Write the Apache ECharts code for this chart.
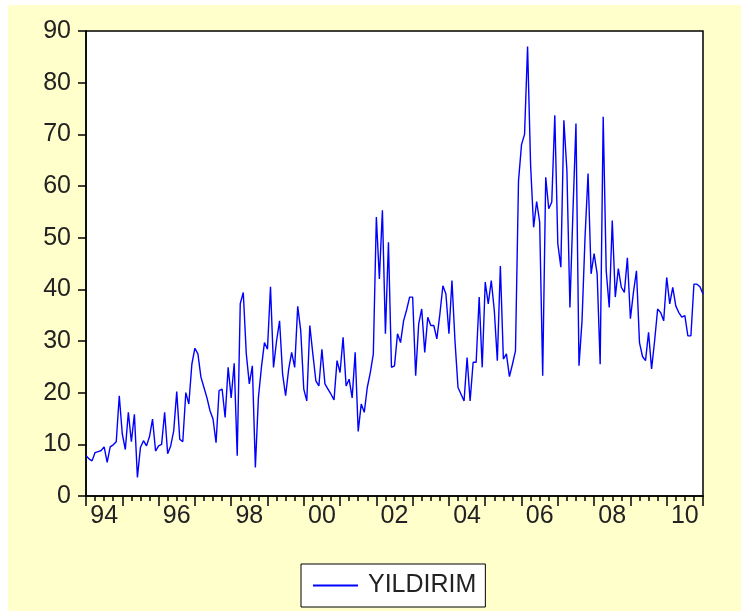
<!DOCTYPE html>
<html>
<head>
<meta charset="utf-8">
<script src="https://cdn.jsdelivr.net/npm/echarts@6/dist/echarts.min.js"></script>
<style>
html,body{margin:0;padding:0;background:#fff;}
#bg{position:absolute;left:8px;top:5px;width:733px;height:606px;background:#FFFFCC;z-index:0;}
#chart{position:absolute;left:0;top:0;width:741px;height:611px;z-index:1;}
</style>
</head>
<body>
<div id="bg"></div>
<div id="chart"></div>
<script>
// Monthly observations, 1994M01 - 2011M01
const startYear = 1994;
const endYear = 2011;
const seriesName = 'YILDIRIM';
const yTicks = [0, 10, 20, 30, 40, 50, 60, 70, 80, 90];

const values = [
  7.8, 7.2, 6.8, 8.4, 8.6, 8.8, 9.5, 6.5, 9.5, 9.9,
  10.5, 19.4, 12, 9.0, 16.2, 10.5, 15.8, 3.6, 9.4, 10.7,
  9.7, 11.5, 14.9, 8.7, 9.7, 10, 16.2, 8.2, 9.7, 12.6,
  20.2, 11, 10.5, 20, 17.8, 25.5, 28.6, 27.5, 23, 21,
  19, 16.5, 14.9, 10.3, 20.4, 20.7, 15.2, 24.9, 19, 25.7,
  7.8, 37.2, 39.4, 27.5, 21.7, 25.2, 5.5, 19, 24.9, 29.7,
  28.4, 40.5, 24.9, 30, 33.9, 23.6, 19.4, 24.5, 27.8, 24.9,
  36.7, 32, 20.7, 18.4, 33, 27.5, 22.3, 21.3, 28.4, 21.7,
  20.7, 19.7, 18.6, 26.2, 23.9, 30.7, 21.3, 22.6, 19, 27.8,
  12.5, 17.8, 16.2, 21, 23.9, 27.5, 54, 42, 55.3, 31.4,
  49.1, 24.9, 25.2, 31.4, 29.7, 33.9, 36, 38.5, 38.5, 23.3,
  33.3, 36.2, 27.8, 34.6, 33, 33, 30.4, 35.2, 40.7, 39.1,
  31.4, 41.7, 30, 21, 19.7, 18.4, 26.8, 18.4, 25.9, 25.9,
  38.5, 24.9, 41.4, 37.2, 41.7, 35.9, 26.2, 44.5, 26.5, 27.5,
  23.1, 25.5, 28.1, 61, 68, 70, 87, 64, 52, 57,
  53, 23.3, 61.7, 55.6, 56.9, 73.7, 48.8, 44.3, 72.7, 63,
  36.5, 55, 72.1, 25.2, 33.9, 50.1, 62.4, 43, 46.9, 43,
  25.5, 73.4, 43.6, 36.5, 53.3, 38.5, 44, 40.4, 39.4, 46.1,
  34.3, 39.4, 43.6, 29.7, 27, 26.2, 31.7, 24.6, 30, 36.2,
  35.5, 33.9, 42.3, 37.2, 40.4, 36.8, 35.5, 34.6, 34.9, 31,
  31, 41, 41, 40.5, 39.1
];

const months = [];
for (let y = startYear; y <= endYear; y++) {
  for (let m = 1; m <= 12; m++) {
    months.push(y + 'M' + (m < 10 ? '0' + m : m));
  }
}
const cats = months.slice(0, values.length);

const FONT = '"Liberation Sans", Arial, sans-serif';
const chart = echarts.init(document.getElementById('chart'), null, {renderer: 'canvas'});
const baseX = {
  type: 'category',
  data: cats,
  boundaryGap: false,
  position: 'bottom',
  splitLine: {show: false}
};
chart.setOption({
  animation: false,
  backgroundColor: 'transparent',
  grid: {
    left: 86, right: 38, top: 31, bottom: 115,
    show: true, backgroundColor: '#ffffff', borderColor: '#000', borderWidth: 1.5
  },
  legend: {
    show: true,
    left: 301, top: 564,
    padding: [9, 9, 9, 12],
    backgroundColor: '#ffffff',
    borderColor: '#000', borderWidth: 1,
    itemWidth: 45, itemHeight: 2,
    icon: 'rect',
    textStyle: {fontFamily: FONT, fontSize: 25, color: '#222', padding: [0, 0, 0, 5]},
    data: [seriesName]
  },
  xAxis: [
    Object.assign({}, baseX, {
      axisLine: {show: true, lineStyle: {color: '#000', width: 1.5}},
      axisTick: {show: true, length: 5, lineStyle: {color: '#000', width: 1.5},
        interval: function (i) { return i % 3 === 0; }},
      axisLabel: {show: false}
    }),
    Object.assign({}, baseX, {
      axisLine: {show: false},
      axisTick: {show: true, length: 10, lineStyle: {color: '#000', width: 1.5},
        interval: function (i) { return i % 12 === 0; }},
      axisLabel: {show: false}
    }),
    Object.assign({}, baseX, {
      axisLine: {show: false},
      axisTick: {show: false},
      axisLabel: {
        show: true, margin: 8,
        interval: function (i) { return i % 24 === 6; },
        formatter: function (v) { return v.slice(2, 4); },
        fontFamily: FONT, fontSize: 25, color: '#222'
      }
    })
  ],
  yAxis: {
    type: 'value',
    min: yTicks[0], max: yTicks[yTicks.length - 1], interval: yTicks[1] - yTicks[0],
    splitLine: {show: false},
    axisLine: {show: true, lineStyle: {color: '#000', width: 1.5}},
    axisTick: {show: true, length: 8, inside: false, lineStyle: {color: '#000', width: 1.5}},
    axisLabel: {margin: 15, fontFamily: FONT, fontSize: 25, color: '#222'}
  },
  series: [{
    name: seriesName,
    type: 'line',
    xAxisIndex: 0,
    data: values,
    showSymbol: false,
    symbol: 'none',
    lineStyle: {color: '#0000FF', width: 1.4},
    itemStyle: {color: '#0000FF'}
  }]
});
</script>
</body>
</html>
